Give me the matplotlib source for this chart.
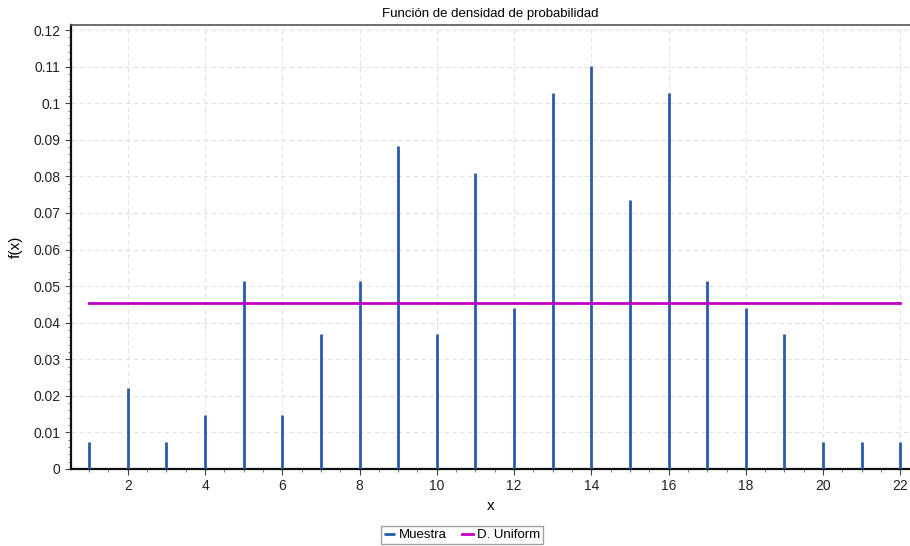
import matplotlib.pyplot as plt
from matplotlib.ticker import MultipleLocator

plt.rcParams['font.family'] = ['Liberation Sans', 'DejaVu Sans']

# Sample probabilities per x value
x_vals = list(range(1, 23))
muestra = [0.0074, 0.0221, 0.0074, 0.0147, 0.0515, 0.0147, 0.0368, 0.0515,
           0.0882, 0.0368, 0.0809, 0.0441, 0.1029, 0.1103, 0.0735, 0.1029,
           0.0515, 0.0441, 0.0368, 0.0074, 0.0074, 0.0074]
uniform_x = [1, 22]
uniform_y = [0.04545, 0.04545]

fig = plt.figure(figsize=(9.1, 5.46), dpi=100)
ax = fig.add_axes([71 / 910, 1 - 469 / 546, (910 - 71) / 910, (469 - 25) / 546])

ax.vlines(x_vals, 0, muestra, color='#2b5ba8', linewidth=2, label='Muestra', zorder=3)
ax.plot(uniform_x, uniform_y, color='#c000c8', linewidth=2, label='D. Uniform', zorder=4)

ax.set_xlim(0.53, 22.25)
ax.set_ylim(0, 0.1214)
ax.xaxis.set_major_locator(MultipleLocator(2))
ax.xaxis.set_minor_locator(MultipleLocator(0.5))
ax.yaxis.set_minor_locator(MultipleLocator(0.002))
ax.set_yticks([0.0, 0.01, 0.02, 0.03, 0.04, 0.05, 0.06, 0.07, 0.08, 0.09, 0.1, 0.11, 0.12])
ax.set_yticklabels(['0', '0.01', '0.02', '0.03', '0.04', '0.05', '0.06', '0.07',
                    '0.08', '0.09', '0.1', '0.11', '0.12'])
ax.tick_params(axis='both', which='major', labelsize=10, length=4, color='#444444', labelcolor='#222222')
ax.tick_params(axis='both', which='minor', length=2, color='#666666')

ax.grid(True, which='major', linestyle=(0, (4, 3)), color='#e2e2e2', linewidth=0.8)
ax.set_axisbelow(True)

for side in ['left', 'bottom']:
    ax.spines[side].set_linewidth(1.6)
    ax.spines[side].set_color('#111111')
ax.spines['top'].set_color('#555555')
ax.spines['top'].set_linewidth(1.2)
ax.spines['right'].set_visible(False)

ax.set_title('Función de densidad de probabilidad', fontsize=9.5, pad=6)
ax.set_xlabel('x', fontsize=11, labelpad=4)
ax.set_ylabel('f(x)', fontsize=11, labelpad=8)

fig.legend(loc='center', bbox_to_anchor=(462 / 910, 1 - 535 / 546), ncol=2, fontsize=9.5,
           frameon=True, fancybox=False, edgecolor='#888888', handlelength=0.8,
           handletextpad=0.3, columnspacing=1.2, borderpad=0.25)

fig.savefig('out.png', dpi=100)
